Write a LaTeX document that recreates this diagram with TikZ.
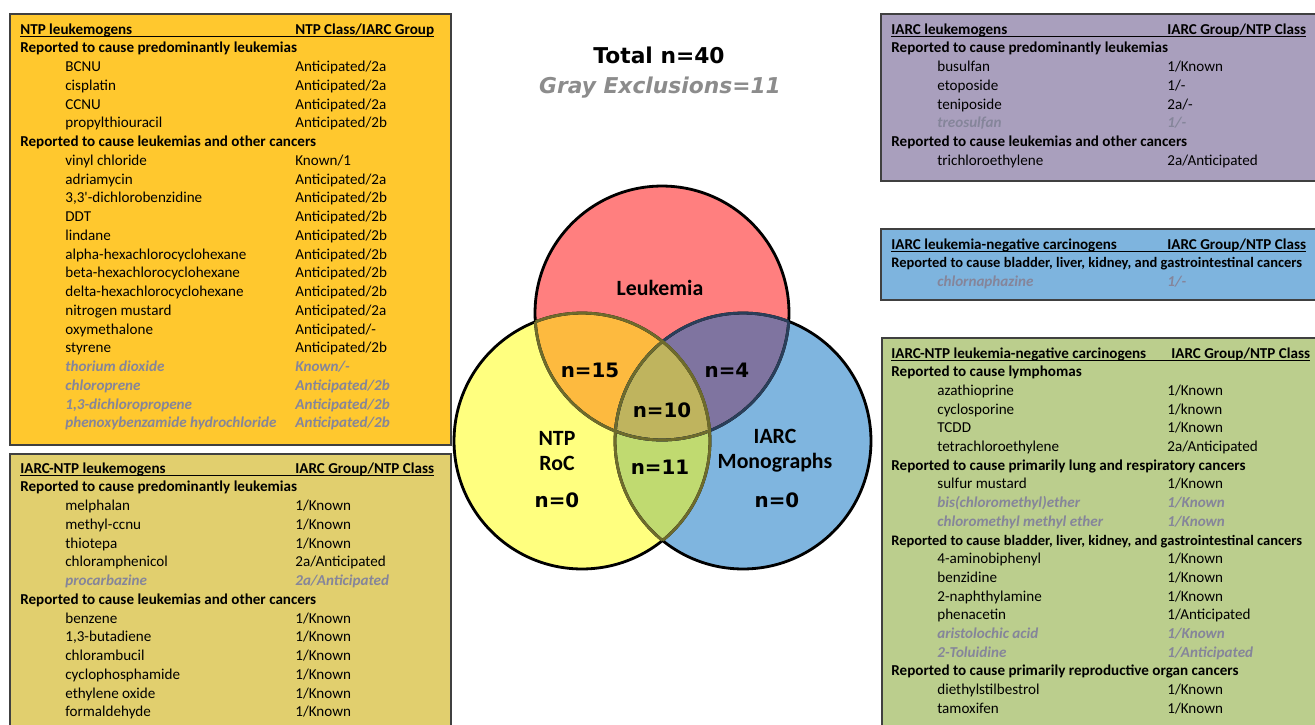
\documentclass[tikz,border=0pt]{standalone}
\usepackage{fontspec}
\setmainfont{Carlito}
\newfontfamily\vennfont{DejaVu Sans}
\definecolor{ntpbox}{HTML}{FFC82E}
\definecolor{bothbox}{HTML}{E1CF6E}
\definecolor{iarcbox}{HTML}{A99FBD}
\definecolor{negbox}{HTML}{7EB4DE}
\definecolor{greenbox}{HTML}{BBCE8D}
\definecolor{exclgray}{HTML}{85859A}
\definecolor{leukred}{HTML}{FF7F7F}
\definecolor{ntpyel}{HTML}{FFFF7F}
\definecolor{iarcblue}{HTML}{7FB5DF}
\definecolor{redyel}{HTML}{FDBA3F}
\definecolor{redblue}{HTML}{7F74A0}
\definecolor{yelblue}{HTML}{C0DA70}
\definecolor{allthree}{HTML}{BFB45E}
\definecolor{olivearc}{HTML}{6E6B2C}
\definecolor{navyarc}{HTML}{2A3F5A}

\begin{document}
\begin{tikzpicture}[x=0.02cm,y=-0.02cm,
  panel/.style={draw=black!75,line width=0.8pt},
  entry/.style={anchor=base west,inner sep=0pt,font=\fontsize{8.6}{10}\selectfont},
  grouphead/.style={entry,font=\fontsize{8.6}{10}\selectfont\bfseries},
  widehead/.style={entry,font=\fontsize{8.25}{10}\selectfont\bfseries},
  gone/.style={entry,text=exclgray,font=\fontsize{8.6}{10}\selectfont\bfseries\itshape},
  uline/.style={line width=0.6pt},
  vennline/.style={line width=1.6pt},
  setname/.style={align=center,font=\fontsize{12.4}{14.2}\selectfont\bfseries},
  tally/.style={font=\vennfont\fontsize{11.3}{13}\selectfont\bfseries}]
  \clip (0,0) rectangle (1315,724);
  \fill[white] (0,0) rectangle (1315,724);

  % NTP leukemogens
  \draw[panel,fill=ntpbox] (10,14) rectangle (451,445);
  \node[grouphead](ntphead)  at (20,34)  {NTP leukemogens};
  \node[grouphead](ntpclass) at (295,34) {NTP Class/IARC Group};
  \draw[uline] ([yshift=-1.2pt]ntphead.base west) -- ([yshift=-1.2pt]ntpclass.base east);
  \node[grouphead](ntppred) at (20,52.75) {Reported to cause predominantly leukemias};
  \node[entry](bcnu)      at (65,71.5)   {BCNU};                 \node[entry](bcnuc)      at (295,71.5)   {Anticipated/2a};
  \node[entry](cisplatin) at (65,90.25)  {cisplatin};            \node[entry](cisplatinc) at (295,90.25)  {Anticipated/2a};
  \node[entry](ccnu)      at (65,109)    {CCNU};                 \node[entry](ccnuc)      at (295,109)    {Anticipated/2a};
  \node[entry](ptu)       at (65,127.75) {propylthiouracil};     \node[entry](ptuc)       at (295,127.75) {Anticipated/2b};
  \node[grouphead](ntpother) at (20,146.5) {Reported to cause leukemias and other cancers};
  \node[entry](vinyl)     at (65,165.25) {vinyl chloride};       \node[entry](vinylc)     at (295,165.25) {Known/1};
  \node[entry](adria)     at (65,184)    {adriamycin};           \node[entry](adriac)     at (295,184)    {Anticipated/2a};
  \node[entry](dcb)       at (65,202.75) {3,3\textquotesingle-dichlorobenzidine}; \node[entry](dcbc) at (295,202.75) {Anticipated/2b};
  \node[entry](ddt)       at (65,221.5)  {DDT};                  \node[entry](ddtc)       at (295,221.5)  {Anticipated/2b};
  \node[entry](lindane)   at (65,240.25) {lindane};              \node[entry](lindanec)   at (295,240.25) {Anticipated/2b};
  \node[entry](alphahch)  at (65,259)    {alpha-hexachlorocyclohexane}; \node[entry](alphahchc) at (295,259) {Anticipated/2b};
  \node[entry](betahch)   at (65,277.75) {beta-hexachlorocyclohexane};  \node[entry](betahchc)  at (295,277.75) {Anticipated/2b};
  \node[entry](deltahch)  at (65,296.5)  {delta-hexachlorocyclohexane}; \node[entry](deltahchc) at (295,296.5) {Anticipated/2b};
  \node[entry](nmustard)  at (65,315.25) {nitrogen mustard};     \node[entry](nmustardc)  at (295,315.25) {Anticipated/2a};
  \node[entry](oxymeth)   at (65,334)    {oxymethalone};         \node[entry](oxymethc)   at (295,334)    {Anticipated/-};
  \node[entry](styrene)   at (65,352.75) {styrene};              \node[entry](styrenec)   at (295,352.75) {Anticipated/2b};
  \node[gone](thorium)    at (65,371.5)  {thorium dioxide};      \node[gone](thoriumc)    at (295,371.5)  {Known/-};
  \node[gone](chloroprene) at (65,390.25) {chloroprene};         \node[gone](chloroprenec) at (295,390.25) {Anticipated/2b};
  \node[gone](dcp)        at (65,409)    {1,3-dichloropropene};  \node[gone](dcpc)        at (295,409)    {Anticipated/2b};
  \node[gone](pbz)        at (65,427.75) {phenoxybenzamide hydrochloride}; \node[gone](pbzc) at (295,427.75) {Anticipated/2b};

  % IARC-NTP leukemogens
  \draw[panel,fill=bothbox] (10,454) rectangle (451,740);
  \node[grouphead](bothhead)  at (20,473)  {IARC-NTP leukemogens};
  \node[grouphead](bothclass) at (295,473) {IARC Group/NTP Class};
  \draw[uline] ([yshift=-1.2pt]bothhead.base west) -- ([yshift=-1.2pt]bothclass.base east);
  \node[grouphead](bothpred) at (20,491.75) {Reported to cause predominantly leukemias};
  \node[entry](melphalan) at (65,510.5)  {melphalan};            \node[entry](melphalanc) at (295,510.5)  {1/Known};
  \node[entry](meccnu)    at (65,529.25) {methyl-ccnu};          \node[entry](meccnuc)    at (295,529.25) {1/Known};
  \node[entry](thiotepa)  at (65,548)    {thiotepa};             \node[entry](thiotepac)  at (295,548)    {1/Known};
  \node[entry](chloramph) at (65,566.75) {chloramphenicol};      \node[entry](chloramphc) at (295,566.75) {2a/Anticipated};
  \node[gone](procarb)    at (65,585.5)  {procarbazine};         \node[gone](procarbc)    at (295,585.5)  {2a/Anticipated};
  \node[grouphead](bothother) at (20,604.25) {Reported to cause leukemias and other cancers};
  \node[entry](benzene)   at (65,623)    {benzene};              \node[entry](benzenec)   at (295,623)    {1/Known};
  \node[entry](butadiene) at (65,641.75) {1,3-butadiene};        \node[entry](butadienec) at (295,641.75) {1/Known};
  \node[entry](chlorambu) at (65,660.5)  {chlorambucil};         \node[entry](chlorambuc) at (295,660.5)  {1/Known};
  \node[entry](cyclophos) at (65,679.25) {cyclophosphamide};     \node[entry](cyclophosc) at (295,679.25) {1/Known};
  \node[entry](eo)        at (65,698)    {ethylene oxide};       \node[entry](eoc)        at (295,698)    {1/Known};
  \node[entry](formal)    at (65,716.75) {formaldehyde};         \node[entry](formalc)    at (295,716.75) {1/Known};

  % IARC leukemogens
  \draw[panel,fill=iarcbox] (881,14) rectangle (1330,181);
  \node[grouphead](iarchead)  at (891,34)  {IARC leukemogens};
  \node[grouphead](iarcgroup) at (1167,34) {IARC Group/NTP Class};
  \draw[uline] ([yshift=-1.2pt]iarchead.base west) -- ([yshift=-1.2pt]iarcgroup.base east);
  \node[grouphead](iarcpred) at (891,52.75) {Reported to cause predominantly leukemias};
  \node[entry](busulfan)  at (937,71.5)   {busulfan};            \node[entry](busulfanc)  at (1167,71.5)   {1/Known};
  \node[entry](etoposide) at (937,90.25)  {etoposide};           \node[entry](etoposidec) at (1167,90.25)  {1/-};
  \node[entry](teniposide) at (937,109)   {teniposide};          \node[entry](teniposidec) at (1167,109)   {2a/-};
  \node[gone](treosulfan) at (937,127.75) {treosulfan};          \node[gone](treosulfanc) at (1167,127.75) {1/-};
  \node[grouphead](iarcother) at (891,146.5) {Reported to cause leukemias and other cancers};
  \node[entry](tce)       at (937,165.25) {trichloroethylene};   \node[entry](tcec)       at (1167,165.25) {2a/Anticipated};

  % IARC leukemia-negative carcinogens
  \draw[panel,fill=negbox] (881,229) rectangle (1330,300);
  \node[grouphead](neghead)  at (891,249)  {IARC leukemia-negative carcinogens};
  \node[grouphead](neggroup) at (1167,249) {IARC Group/NTP Class};
  \draw[uline] ([yshift=-1.2pt]neghead.base west) -- ([yshift=-1.2pt]neggroup.base east);
  \node[widehead](negbladder) at (891,267.6) {Reported to cause bladder, liver, kidney, and gastrointestinal cancers};
  \node[gone](chlornaph) at (937,286.2) {chlornaphazine};        \node[gone](chlornaphc) at (1167,286.2) {1/-};

  % IARC-NTP leukemia-negative carcinogens
  \draw[panel,fill=greenbox] (882,338) rectangle (1330,740);
  \node[grouphead](nonhead)  at (891,358)  {IARC-NTP leukemia-negative carcinogens};
  \node[grouphead](nongroup) at (1171,358) {IARC Group/NTP Class};
  \draw[uline] ([yshift=-1.2pt]nonhead.base west) -- ([yshift=-1.2pt]nongroup.base east);
  \node[grouphead](nonlymph) at (891,376.7) {Reported to cause lymphomas};
  \node[entry](azathio)   at (937,395.4) {azathioprine};         \node[entry](azathioc)   at (1167,395.4) {1/Known};
  \node[entry](cyclospor) at (937,414.1) {cyclosporine};         \node[entry](cyclosporc) at (1167,414.1) {1/known};
  \node[entry](tcdd)      at (937,432.8) {TCDD};                 \node[entry](tcddc)      at (1167,432.8) {1/Known};
  \node[entry](perc)      at (937,451.5) {tetrachloroethylene};  \node[entry](percc)      at (1167,451.5) {2a/Anticipated};
  \node[grouphead](nonlung) at (891,470.2) {Reported to cause primarily lung and respiratory cancers};
  \node[entry](smustard)  at (937,488.9) {sulfur mustard};       \node[entry](smustardc)  at (1167,488.9) {1/Known};
  \node[gone](bcme)       at (937,507.6) {bis(chloromethyl)ether};   \node[gone](bcmec) at (1167,507.6) {1/Known};
  \node[gone](cmme)       at (937,526.3) {chloromethyl methyl ether}; \node[gone](cmmec) at (1167,526.3) {1/Known};
  \node[widehead](nonbladder) at (891,545) {Reported to cause bladder, liver, kidney, and gastrointestinal cancers};
  \node[entry](abp)       at (937,563.7) {4-aminobiphenyl};      \node[entry](abpc)       at (1167,563.7) {1/Known};
  \node[entry](benzidine) at (937,582.4) {benzidine};            \node[entry](benzidinec) at (1167,582.4) {1/Known};
  \node[entry](naphthyl)  at (937,601.1) {2-naphthylamine};      \node[entry](naphthylc)  at (1167,601.1) {1/Known};
  \node[entry](phenacetin) at (937,619.8) {phenacetin};          \node[entry](phenacetinc) at (1167,619.8) {1/Anticipated};
  \node[gone](aristo)     at (937,638.5) {aristolochic acid};    \node[gone](aristoc)     at (1167,638.5) {1/Known};
  \node[gone](toluidine)  at (937,657.2) {2-Toluidine};          \node[gone](toluidinec)  at (1167,657.2) {1/Anticipated};
  \node[grouphead](nonrepro) at (891,675.9) {Reported to cause primarily reproductive organ cancers};
  \node[entry](des)       at (937,694.6) {diethylstilbestrol};   \node[entry](desc)       at (1167,694.6) {1/Known};
  \node[entry](tamox)     at (937,713.3) {tamoxifen};            \node[entry](tamoxc)     at (1167,713.3) {1/Known};

  % totals
  \node[font=\vennfont\fontsize{12.4}{14}\selectfont\bfseries](total) at (659,55) {Total n=40};
  \node[font=\vennfont\fontsize{12.4}{14}\selectfont\bfseries\itshape,text=black!45](exclusions) at (660,88) {Gray Exclusions=11};

  % venn
  \coordinate (leuk) at (662,313);
  \coordinate (ntp)  at (582,441);
  \coordinate (iarc) at (743,441);
  \fill[leukred] (leuk) circle (2.54cm);
  \fill[ntpyel]  (ntp)  circle (2.56cm);
  \fill[iarcblue] (iarc) circle (2.56cm);
  \begin{scope}
    \clip (leuk) circle (2.54cm);
    \fill[redyel]  (ntp)  circle (2.56cm);
    \fill[redblue] (iarc) circle (2.56cm);
  \end{scope}
  \begin{scope}
    \clip (ntp) circle (2.56cm);
    \fill[yelblue] (iarc) circle (2.56cm);
    \clip (leuk) circle (2.54cm);
    \fill[allthree] (iarc) circle (2.56cm);
  \end{scope}
  \draw[vennline] (leuk) circle (2.54cm) (ntp) circle (2.56cm) (iarc) circle (2.56cm);
  \begin{scope}
    \clip (leuk) circle (2.54cm);
    \draw[vennline,navyarc] (iarc) circle (2.56cm);
    \draw[vennline,olivearc] (ntp) circle (2.56cm);
  \end{scope}
  \begin{scope}
    \clip (iarc) circle (2.56cm);
    \draw[vennline,navyarc] (leuk) circle (2.54cm);
    \draw[vennline,olivearc] (ntp) circle (2.56cm);
  \end{scope}
  \begin{scope}
    \clip (ntp) circle (2.56cm);
    \draw[vennline,olivearc] (leuk) circle (2.54cm) (iarc) circle (2.56cm);
  \end{scope}

  \node[setname](leukemia) at (660,288) {Leukemia};
  \node[setname](ntproc)   at (557,451) {NTP\\RoC};
  \node[setname](iarcmono) at (775,451) {IARC\\Monographs};
  \node[tally](ntponly)  at (557,500) {n=0};
  \node[tally](iarconly) at (777,500) {n=0};
  \node[tally](ntpleuk)  at (590,370) {n=15};
  \node[tally](iarcleuk) at (727,370) {n=4};
  \node[tally](center)   at (662,410) {n=10};
  \node[tally](ntpiarc)  at (660,467) {n=11};
\end{tikzpicture}
\end{document}
